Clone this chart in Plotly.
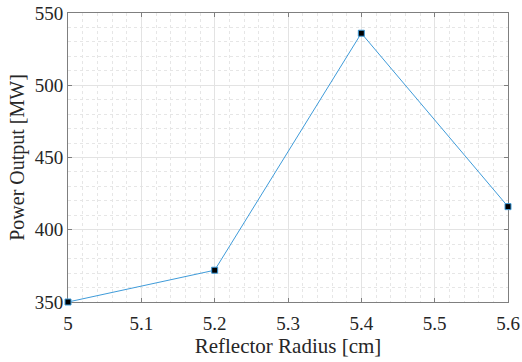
import plotly.graph_objects as go

radius = [5.0, 5.2, 5.4, 5.6]
power = [350, 372, 536, 416]
x_ticks = [5, 5.1, 5.2, 5.3, 5.4, 5.5, 5.6]
x_tick_labels = ["5", "5.1", "5.2", "5.3", "5.4", "5.5", "5.6"]
y_ticks = [350, 400, 450, 500, 550]

fig = go.Figure()
fig.add_trace(go.Scatter(
    x=radius, y=power, mode="lines+markers",
    line=dict(color="#3f9bd9", width=1),
    marker=dict(symbol="square", size=6, color="black",
                line=dict(color="#3f9bd9", width=1)),
    cliponaxis=False, showlegend=False,
))

axis_common = dict(
    showline=True, linecolor="#7f7f7f", linewidth=1, mirror="ticks",
    ticks="inside", ticklen=4, tickcolor="#7f7f7f",
    showgrid=True, gridcolor="#e3e3e3", gridwidth=1,
    zeroline=False, layer="below traces", ticklabeloverflow="allow",
    tickfont=dict(family="Liberation Serif", size=19, color="#262626"),
)

fig.update_xaxes(
    range=[5, 5.6], tickvals=x_ticks, ticktext=x_tick_labels,
    ticklabelstandoff=4, automargin="height",
    title=dict(text="Reflector Radius [cm]", standoff=0,
               font=dict(family="Liberation Serif", size=21, color="#262626")),
    minor=dict(dtick=0.02, showgrid=True, gridcolor="#e6e6e6", griddash="dot", ticks=""),
    **axis_common,
)
fig.update_yaxes(
    range=[350, 550], tickvals=y_ticks, automargin="width",
    title=dict(text="Power Output [MW]", standoff=4,
               font=dict(family="Liberation Serif", size=20, color="#262626")),
    minor=dict(dtick=10, showgrid=True, gridcolor="#e6e6e6", griddash="dot", ticks=""),
    **axis_common,
)

fig.update_layout(
    width=522, height=362,
    margin=dict(l=68, r=14, t=13, b=60),
    plot_bgcolor="white", paper_bgcolor="white",
)

fig.write_html(
    "out.html",
    config={"displayModeBar": False},
    post_script="document.body.style.margin='0';document.body.style.overflow='hidden';",
)
